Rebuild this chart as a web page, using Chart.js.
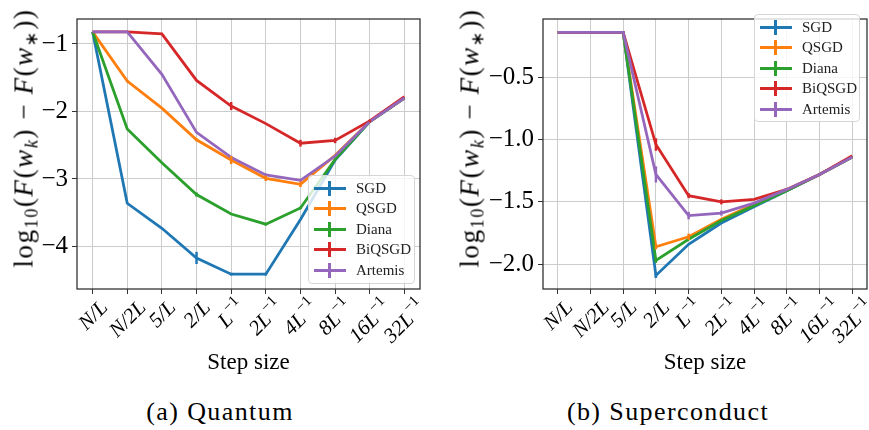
<!doctype html>
<html>
<head>
<meta charset="utf-8">
<title>Step size comparison</title>
<script src="https://cdn.jsdelivr.net/npm/chart.js@4"></script>
<style>
  body { margin: 0; background: #fff; }
  #wrap { position: relative; width: 869px; height: 430px; font-family: "Liberation Serif", serif; color: #000; }
  .panel { position: absolute; top: 0; }
  .ytitle { position: absolute; font-size: 27px; letter-spacing: 1.6px; white-space: nowrap; transform: translate(-50%, -50%) rotate(-90deg); }
  .ytitle sub { font-size: 18px; vertical-align: -5px; line-height: 0; }
  .caption { position: absolute; top: 397px; font-size: 26px; line-height: 30px; letter-spacing: 1.4px; transform: translateX(-50%); white-space: nowrap; }
  .legend { position: absolute; background: rgba(255,255,255,0.8); border: 1px solid #d6d6d6; border-radius: 4px; font-size: 15px; }
  .legend .row { position: absolute; left: 0; height: 20px; width: 100%; }
  .legend .ln { position: absolute; left: 5px; top: 9px; width: 32px; height: 3px; }
  .legend .vb { position: absolute; left: 19px; top: 3px; width: 3px; height: 15px; }
  .legend .tx { position: absolute; left: 47px; top: 0; line-height: 20px; color: #222; }
</style>
</head>
<body>
<div id="wrap">
  <canvas id="cA" class="panel" style="left:0" width="430" height="380"></canvas>
  <canvas id="cB" class="panel" style="left:435px" width="434" height="380"></canvas>
  <div class="ytitle" style="left:24px;top:138px">log<sub>10</sub>(<i>F</i>(<i>w<sub>k</sub></i>) − <i>F</i>(<i>w</i><sub>∗</sub>))</div>
  <div class="ytitle" style="left:470px;top:138px">log<sub>10</sub>(<i>F</i>(<i>w<sub>k</sub></i>) − <i>F</i>(<i>w</i><sub>∗</sub>))</div>
  <div class="legend" id="legA" style="left:308px;top:175px;width:105px;height:107px"></div>
  <div class="legend" id="legB" style="left:754px;top:14px;width:104px;height:106px"></div>
  <div class="caption" style="left:220px">(a) Quantum</div>
  <div class="caption" style="left:668px">(b) Superconduct</div>
</div>
<script>
const xLabels = ['N/L', 'N/2L', '5/L', '2/L', 'L⁻¹', '2L⁻¹', '4L⁻¹', '8L⁻¹', '16L⁻¹', '32L⁻¹'];
const names = ['SGD', 'QSGD', 'Diana', 'BiQSGD', 'Artemis'];
const colors = ['#1f77b4', '#ff7f0e', '#2ca02c', '#d62728', '#9467bd'];

// (a) Quantum
const sgdA     = [-0.82, -3.36, -3.73, -4.17, -4.41, -4.41, -3.60, -2.72, -2.15, -1.80];
const qsgdA    = [-0.82, -1.55, -1.95, -2.42, -2.72, -2.99, -3.08, -2.65, -2.15, -1.80];
const dianaA   = [-0.82, -2.26, -2.76, -3.23, -3.52, -3.67, -3.43, -2.71, -2.15, -1.80];
const biqsgdA  = [-0.82, -0.82, -0.85, -1.54, -1.92, -2.18, -2.47, -2.43, -2.14, -1.78];
const artemisA = [-0.82, -0.82, -1.45, -2.31, -2.68, -2.94, -3.02, -2.66, -2.15, -1.80];
const errA = [
  [0, 0, 0, 0.09, 0.02, 0.02, 0, 0, 0, 0],
  [0, 0.02, 0, 0.02, 0.06, 0.04, 0.04, 0, 0, 0],
  [0, 0, 0, 0.03, 0, 0.02, 0.02, 0, 0, 0],
  [0, 0, 0, 0, 0.06, 0, 0.05, 0.04, 0.02, 0],
  [0, 0, 0, 0, 0.02, 0.02, 0.02, 0, 0, 0]
];
const yTicksA = [-4, -3, -2, -1];

// (b) Superconduct
const sgdB     = [-0.14, -0.14, -0.14, -2.09, -1.84, -1.67, -1.54, -1.41, -1.28, -1.14];
const qsgdB    = [-0.14, -0.14, -0.14, -1.86, -1.78, -1.64, -1.52, -1.40, -1.28, -1.14];
const dianaB   = [-0.14, -0.14, -0.14, -1.97, -1.80, -1.65, -1.53, -1.41, -1.28, -1.14];
const biqsgdB  = [-0.14, -0.14, -0.14, -1.04, -1.45, -1.50, -1.48, -1.40, -1.28, -1.13];
const artemisB = [-0.14, -0.14, -0.14, -1.28, -1.61, -1.59, -1.51, -1.40, -1.28, -1.14];
const errB = [
  [0, 0, 0, 0.02, 0, 0, 0, 0, 0, 0],
  [0, 0, 0, 0.02, 0.025, 0, 0, 0, 0, 0],
  [0, 0, 0, 0.02, 0, 0, 0, 0, 0, 0],
  [0, 0, 0, 0.05, 0.02, 0.02, 0, 0, 0, 0],
  [0, 0, 0, 0.065, 0.03, 0.02, 0, 0, 0, 0]
];
const yTicksB = [-2.0, -1.5, -1.0, -0.5];

const frame = {
  id: 'frame',
  afterDraw(chart) {
    const a = chart.chartArea, ctx = chart.ctx;
    ctx.save();
    ctx.strokeStyle = '#333';
    ctx.lineWidth = 1.3;
    ctx.strokeRect(a.left, a.top, a.right - a.left, a.bottom - a.top);
    ctx.restore();
  }
};

const errBars = {
  id: 'errBars',
  afterDatasetsDraw(chart) {
    const ctx = chart.ctx, x = chart.scales.x, y = chart.scales.y;
    chart.data.datasets.slice().reverse().forEach(ds => {
      ctx.save();
      ctx.strokeStyle = ds.borderColor;
      ctx.lineWidth = 2.5;
      ds.data.forEach((p, i) => {
        const e = ds.err[i];
        if (!e) return;
        const px = x.getPixelForValue(p.x);
        ctx.beginPath();
        ctx.moveTo(px, y.getPixelForValue(p.y - e));
        ctx.lineTo(px, y.getPixelForValue(p.y + e));
        ctx.stroke();
      });
      ctx.restore();
    });
  }
};

// rotated x tick labels, centred under each tick like matplotlib, with a real superscript
const xTickText = {
  id: 'xTickText',
  afterDraw(chart) {
    const ctx = chart.ctx, x = chart.scales.x, top = chart.chartArea.bottom + 9;
    const baseFont = 'italic 21px "Liberation Serif"', supFont = '15px "Liberation Serif"';
    xLabels.forEach((lab, i) => {
      const sup = lab.endsWith('⁻¹');
      const base = sup ? lab.slice(0, -2) : lab;
      ctx.save();
      ctx.fillStyle = '#000';
      ctx.textAlign = 'left';
      ctx.textBaseline = 'alphabetic';
      ctx.font = baseFont;
      const wb = ctx.measureText(base).width;
      ctx.font = supFont;
      const ws = sup ? ctx.measureText('−1').width + 1 : 0;
      const w = wb + ws, side = (w + 16) * Math.SQRT1_2;
      ctx.translate(x.getPixelForValue(i), top + side / 2);
      ctx.rotate(-Math.PI / 4);
      ctx.font = baseFont;
      ctx.fillText(base, -w / 2, 7);
      if (sup) {
        ctx.font = supFont;
        ctx.fillText('−1', -w / 2 + wb + 1, -3);
      }
      ctx.restore();
    });
  }
};

function makeChart(id, series, errs, yTicks, yMin, yMax, yW, digits, padRight) {
  const datasets = series.map((vals, k) => ({
    label: names[k],
    data: vals.map((v, i) => ({ x: i, y: v })),
    err: errs[k],
    borderColor: colors[k],
    backgroundColor: colors[k],
    borderWidth: 2.8,
    pointRadius: 0,
    tension: 0,
    order: series.length - k
  }));
  return new Chart(document.getElementById(id), {
    type: 'line',
    data: { datasets },
    options: {
      responsive: false,
      animation: false,
      layout: { padding: { left: 0, right: padRight, top: 6, bottom: 0 } },
      plugins: { legend: { display: false }, tooltip: { enabled: false } },
      scales: {
        x: {
          type: 'linear',
          min: -0.45, max: 9.45,
          afterBuildTicks: s => { s.ticks = xLabels.map((_, i) => ({ value: i })); },
          afterFit: s => { s.height = 91; },
          grid: { color: '#cccccc', tickColor: '#333', tickLength: 5 },
          border: { display: false },
          ticks: { display: false, autoSkip: false, callback: v => xLabels[v] },
          title: {
            display: true, text: 'Step size', color: '#000',
            font: { family: 'Liberation Serif', size: 23 },
            padding: { top: 0, bottom: 3 }
          }
        },
        y: {
          min: yMin, max: yMax,
          afterBuildTicks: s => { s.ticks = yTicks.map(v => ({ value: v })); },
          afterFit: s => { s.width = yW; },
          grid: { color: '#cccccc', tickColor: '#333', tickLength: 5 },
          border: { display: false },
          ticks: {
            padding: 4, color: '#000',
            font: { family: 'Liberation Serif', size: 25 },
            callback: v => v.toFixed(digits).replace('-', '−')
          }
        }
      }
    },
    plugins: [frame, errBars, xTickText]
  });
}

function makeLegend(id) {
  const box = document.getElementById(id);
  names.forEach((n, k) => {
    const r = document.createElement('div');
    r.className = 'row';
    r.style.top = (2 + k * 20.4) + 'px';
    r.innerHTML = '<div class="ln" style="background:' + colors[k] + '"></div>' +
      '<div class="vb" style="background:' + colors[k] + '"></div>' +
      '<div class="tx">' + n + '</div>';
    box.appendChild(r);
  });
}

makeChart('cA', [sgdA, qsgdA, dianaA, biqsgdA, artemisA], errA, yTicksA, -4.63, -0.63, 77, 0, 10);
makeChart('cB', [sgdB, qsgdB, dianaB, biqsgdB, artemisB], errB, yTicksB, -2.199, -0.033, 108, 1, 2);
makeLegend('legA');
makeLegend('legB');
</script>
</body>
</html>
